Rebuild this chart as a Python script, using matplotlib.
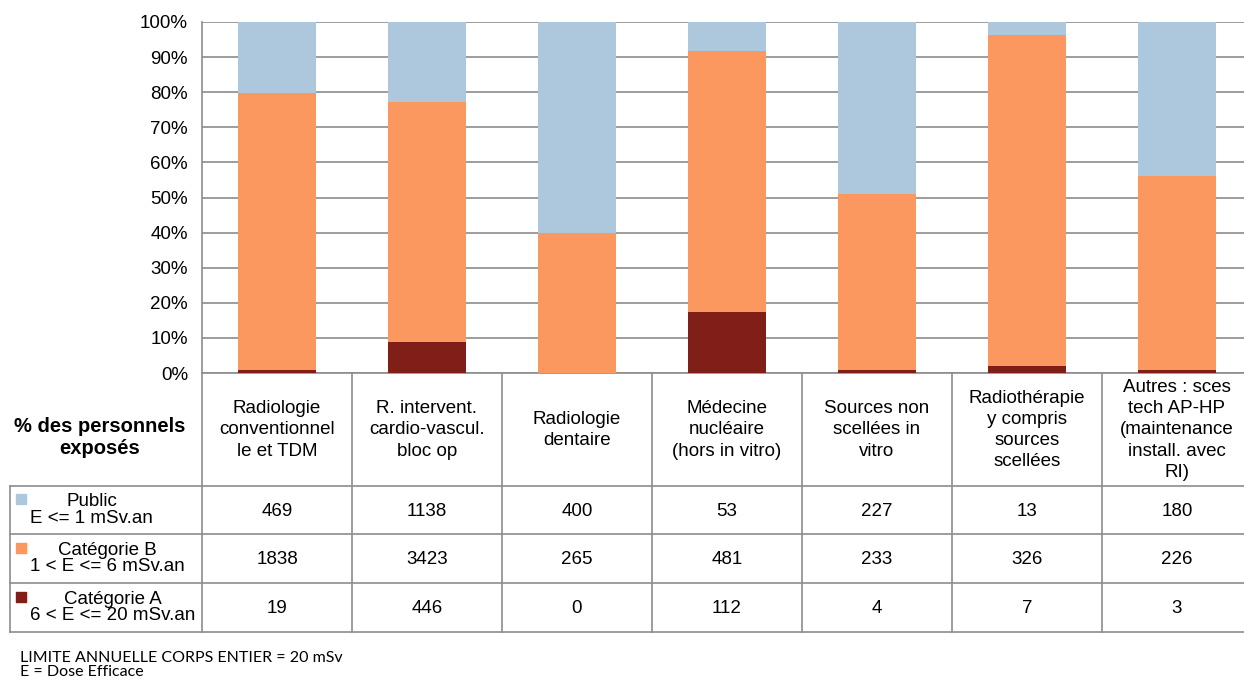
import numpy as np
import matplotlib
matplotlib.use("Agg")
import matplotlib.pyplot as plt

plt.rcParams['font.family'] = ['Liberation Sans', 'DejaVu Sans']

# data
categories = ["Radiologie\nconventionnel\nle et TDM",
              "R. intervent.\ncardio-vascul.\nbloc op",
              "Radiologie\ndentaire",
              "Médecine\nnucléaire\n(hors in vitro)",
              "Sources non\nscellées in\nvitro",
              "Radiothérapie\ny compris\nsources\nscellées",
              "Autres : sces\ntech AP-HP\n(maintenance\ninstall. avec\nRI)"]
public = [469, 1138, 400, 53, 227, 13, 180]
cat_b = [1838, 3423, 265, 481, 233, 326, 226]
cat_a = [19, 446, 0, 112, 4, 7, 3]
series_names = ["Public\nE <= 1 mSv.an",
                "Catégorie B\n1 < E <= 6 mSv.an",
                "Catégorie A\n6 < E <= 20 mSv.an"]
colors = ["#adc7dc", "#fa9860", "#7f1f17"]
grid_col = "#8c8c8c"

W, H = 1244, 681
fig = plt.figure(figsize=(W / 100, H / 100), dpi=100)

# plot area: 7 columns of 150 px starting at x=202 (last one runs past the edge)
x0, x1 = 202, 202 + 7 * 150
ytop, ybot = 22, 373
ax = fig.add_axes([x0 / W, 1 - ybot / H, (x1 - x0) / W, (ybot - ytop) / H])

pub = np.array(public, float)
b = np.array(cat_b, float)
a = np.array(cat_a, float)
tot = pub + b + a
x = np.arange(len(categories))
ax.bar(x, a / tot, width=0.52, color=colors[2], zorder=3)
ax.bar(x, b / tot, width=0.52, bottom=a / tot, color=colors[1], zorder=3)
ax.bar(x, pub / tot, width=0.52, bottom=(a + b) / tot, color=colors[0], zorder=3)

ax.set_xlim(-0.5, len(categories) - 0.5)
ax.set_ylim(0, 1)
ax.set_yticks(np.linspace(0, 1, 11))
ax.set_yticklabels([f"{int(round(v * 100))}%" for v in np.linspace(0, 1, 11)], fontsize=13.5)
ax.tick_params(axis='y', length=0, pad=10)
ax.set_xticks([])
ax.grid(axis='y', color=grid_col, linewidth=1.2, zorder=0)
for s in ['top', 'right']:
    ax.spines[s].set_visible(False)
for s in ['left', 'bottom']:
    ax.spines[s].set_color(grid_col)
    ax.spines[s].set_linewidth(1.2)

# data table drawn in pixel coordinates
tab = fig.add_axes([0, 0, 1, 1])
tab.set_xlim(0, W)
tab.set_ylim(H, 0)
tab.axis('off')
rows_y = [373, 486, 534, 583, 632]
lc = "#8c8c8c"
for i in range(len(categories) + 1):
    tab.plot([x0 + i * 150] * 2, [rows_y[0], rows_y[-1]], color=lc, lw=1.2)
for yy in rows_y[1:]:
    tab.plot([10, W], [yy, yy], color=lc, lw=1.2)
tab.plot([10, 10], [rows_y[1], rows_y[-1]], color=lc, lw=1.2)

tab.text(100, 438, "% des personnels\nexposés", ha='center', va='center',
         fontsize=14.5, fontweight='bold', linespacing=1.2)
for i, c in enumerate(categories):
    tab.text(x0 + 75 + i * 150, 430, c, ha='center', va='center',
             fontsize=13.5, linespacing=1.32)

for r, (name, vals) in enumerate(zip(series_names, [public, cat_b, cat_a])):
    yc = (rows_y[r + 1] + rows_y[r + 2]) / 2
    tab.scatter([21], [yc - 11], marker='s', s=50, color=colors[r])
    tab.text(30, yc, name, ha='left', va='center', multialignment='center',
             fontsize=13.5, linespacing=0.95)
    for i, v in enumerate(vals):
        tab.text(x0 + 75 + i * 150, yc + 1, str(v), ha='center', va='center', fontsize=13.5)

tab.text(20, 665, "LIMITE ANNUELLE CORPS ENTIER = 20 mSv\nE = Dose Efficace",
         ha='left', va='center', fontsize=11.5, family=['Lato', 'DejaVu Sans'],
         linespacing=1.05)

fig.savefig("out.png", dpi=100)
